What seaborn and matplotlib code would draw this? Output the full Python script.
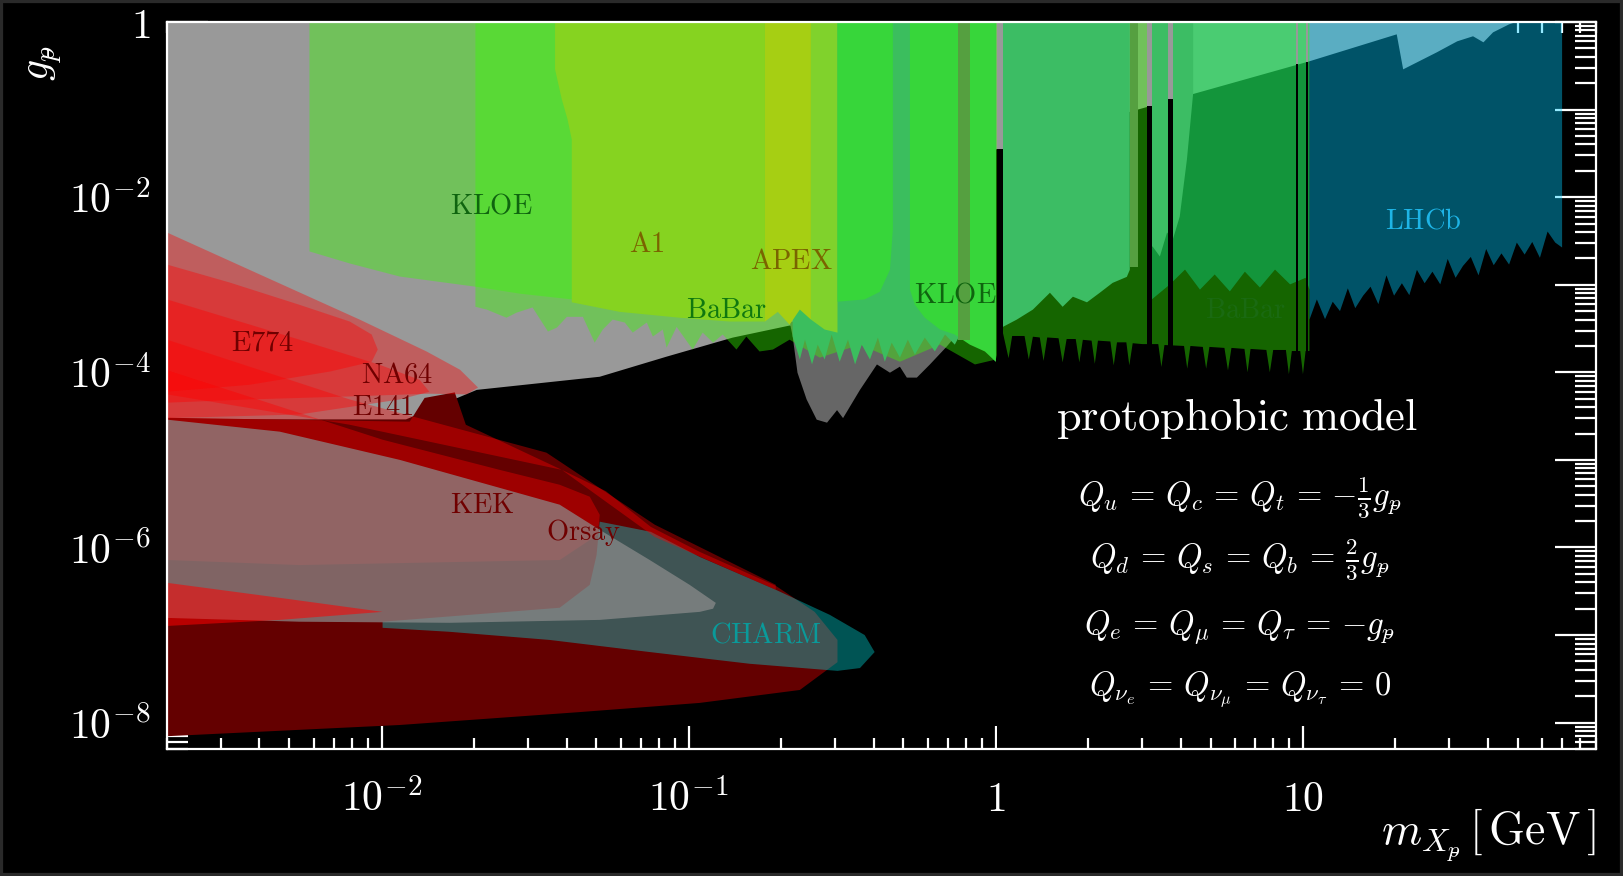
import numpy as np
import matplotlib
matplotlib.use("Agg")
import matplotlib.pyplot as plt
import seaborn as sns
from matplotlib.ticker import LogLocator, FuncFormatter, NullFormatter
from matplotlib.patches import Rectangle

sns.set_theme(style="dark")
plt.rcParams["mathtext.fontset"] = "cm"
plt.rcParams["font.family"] = ["DejaVu Serif", "DejaVu Sans"]

# ---- exclusion regions, (mass [GeV], coupling) ----
# light gray combined bound (lower edge, left -> right)
gray_m = [0.002, 0.012, 0.0204, 0.0513, 0.0847, 0.139, 0.213, 0.781, 1.0, 1.0, 2.90, 10.5,
          20.2, 21.2, 27.3, 31.8, 35.8, 38.7, 41.6, 46.9, 49.4]
gray_g = [2.9e-5, 2.9e-5, 6.3e-5, 8.9e-5, 1.51e-4, 2.49e-4, 3.42e-4, 2.56e-4, 2.36e-4, 0.0351, 0.100, 0.356,
          0.723, 0.288, 0.451, 0.602, 0.687, 0.586, 0.762, 0.94, 1.0]

# dark gray pocket
dip_m = [0.213, 0.781, 0.781, 0.746, 0.692, 0.610, 0.553, 0.513, 0.487, 0.452, 0.410, 0.361,
         0.318, 0.304, 0.282, 0.261, 0.242, 0.226, 0.218]
dip_g = [3.8e-4, 2.84e-4, 2.56e-4, 2.70e-4, 1.97e-4, 1.23e-4, 8.7e-5, 8.7e-5, 1.16e-4, 9.9e-5, 1.23e-4, 6.3e-5,
         3.0e-5, 3.7e-5, 2.66e-5, 2.88e-5, 4.9e-5, 9.9e-5, 2.56e-4]

kloe_m = [0.00582, 0.00582, 0.00787, 0.01146, 0.0202, 0.0282, 0.0416, 0.1086, 0.177]
kloe_g = [1.0, 2.40e-3, 1.75e-3, 1.24e-3, 9.5e-4, 7.9e-4, 6.8e-4, 5.9e-4, 5.2e-4]

babar_m = [0.0202, 0.0202, 0.0220, 0.0255, 0.0275, 0.0310, 0.0348, 0.0372, 0.0401, 0.0452, 0.0494, 0.0525,
           0.0565, 0.0619, 0.0657, 0.0730, 0.0764, 0.0823, 0.0847, 0.0913, 0.103, 0.111, 0.120, 0.129,
           0.143, 0.154, 0.170, 0.188, 0.213, 0.267, 0.361, 0.487, 0.658, 0.855, 1.0,
           1.054, 1.10, 1.13, 1.24, 1.28, 1.32, 1.39, 1.43, 1.47, 1.60, 1.65, 1.70, 1.82, 1.87, 1.92,
           2.05, 2.10, 2.15, 2.36, 2.42, 2.48, 2.66, 2.72, 2.79, 3.0, 3.38, 3.46, 3.54, 4.1, 4.2, 4.3,
           4.72, 4.84, 4.96, 5.55, 5.7, 5.85, 6.45, 6.6, 6.75, 7.6, 7.8, 8.0, 8.8, 9.0, 9.2, 9.8, 10.0,
           10.2, 10.5]
babar_g = [1.0, 5.6e-4, 5.2e-4, 4.2e-4, 4.8e-4, 5.5e-4, 2.92e-4, 3.24e-4, 4.3e-4, 4.3e-4, 2.18e-4, 3.08e-4,
           4.0e-4, 3.7e-4, 2.84e-4, 3.7e-4, 2.56e-4, 3.08e-4, 1.91e-4, 3.3e-4, 1.82e-4, 2.84e-4, 2.18e-4, 2.70e-4,
           1.82e-4, 2.56e-4, 1.73e-4, 1.82e-4, 2.36e-4, 1.47e-4, 2.07e-4, 1.32e-4, 2.07e-4, 1.23e-4, 1.40e-4,
           2.84e-4, 1.45e-4, 2.6e-4, 2.6e-4, 1.4e-4, 2.55e-4, 2.5e-4, 1.35e-4, 2.5e-4, 2.45e-4, 1.3e-4, 2.4e-4,
           2.4e-4, 1.3e-4, 2.35e-4, 2.3e-4, 1.25e-4, 2.3e-4, 2.25e-4, 1.2e-4, 2.2e-4, 2.2e-4, 1.2e-4, 2.15e-4,
           2.1e-4, 2.1e-4, 1.15e-4, 2.05e-4, 2.0e-4, 1.1e-4, 2.0e-4, 1.95e-4, 1.1e-4, 1.95e-4, 1.9e-4, 1.05e-4,
           1.9e-4, 1.85e-4, 1.0e-4, 1.85e-4, 1.8e-4, 1.0e-4, 1.8e-4, 1.8e-4, 9.5e-5, 1.75e-4, 1.75e-4, 9.5e-5,
           1.75e-4, 1.75e-4]

t1_m = [0.218, 0.218, 0.230, 0.239, 0.252, 0.263, 0.277, 0.292, 0.310, 0.330, 0.348, 0.366, 0.389, 0.413,
        0.435, 0.458, 0.487, 0.517, 0.545, 0.587, 0.633, 0.683, 0.735, 0.781, 0.855, 0.921, 1.0]
t1_g = [1.0, 2.56e-4, 1.40e-4, 2.36e-4, 1.23e-4, 2.07e-4, 1.40e-4, 2.70e-4, 1.32e-4, 2.36e-4, 1.23e-4,
        2.07e-4, 1.40e-4, 2.49e-4, 1.32e-4, 2.18e-4, 1.47e-4, 2.36e-4, 1.59e-4, 2.49e-4, 1.73e-4, 2.70e-4,
        2.07e-4, 3.08e-4, 2.07e-4, 1.82e-4, 1.32e-4]

a1_m = [0.0367, 0.0367, 0.0386, 0.0403, 0.0416, 0.0416, 0.0596, 0.0935, 0.136, 0.177]
a1_g = [1.0, 0.288, 0.131, 0.0773, 0.0456, 6.3e-4, 4.9e-4, 4.2e-4, 3.8e-4, 3.8e-4]

apex_m = [0.177, 0.177, 0.195, 0.213, 0.230, 0.250]
apex_g = [1.0, 3.8e-4, 4.9e-4, 3.5e-4, 5.2e-4, 4.0e-4]

na48_m = [0.250, 0.250, 0.277, 0.305]
na48_g = [1.0, 4.0e-4, 3.08e-4, 2.84e-4]

b1_m = [0.305, 0.305, 0.374, 0.419, 0.452, 0.462, 0.462]
b1_g = [1.0, 6.4e-4, 6.8e-4, 8.3e-4, 1.48e-3, 4.27e-3, 1.0]

kloe2_m = [0.525, 0.525, 0.545, 0.587, 0.658, 0.735, 0.823, 0.921, 1.0]
kloe2_g = [1.0, 8.8e-4, 5.9e-4, 4.2e-4, 3.08e-4, 2.70e-4, 2.07e-4, 1.73e-4, 1.32e-4]

stripe1_m = [0.752, 0.752, 0.823]
stripe1_g = [1.0, 2.36e-4, 2.36e-4]

k2_m = [1.054, 1.054, 1.170, 1.32, 1.50, 1.65, 1.782, 1.98, 2.18, 2.40, 2.67, 2.73]
k2_g = [1.0, 3.3e-4, 4.0e-4, 5.2e-4, 8.1e-4, 5.6e-4, 7.3e-4, 6.3e-4, 8.1e-4, 1.05e-3, 1.23e-3, 1.48e-3]

stripe2_m = [2.73, 2.73, 2.90]
stripe2_g = [1.0, 1.6e-3, 1.6e-3]

k3_m = [3.22, 3.22, 3.24, 3.42, 3.61, 3.77, 3.97, 4.19, 4.39]
k3_g = [1.0, 2.73e-3, 2.73e-3, 2.10e-3, 3.95e-3, 3.29e-3, 6.0e-3, 0.0270, 0.153]

hm_m = [3.22, 3.22, 3.69, 4.13, 4.62, 5.16, 5.78, 6.47, 7.24, 8.11, 9.08, 10.2, 10.5]
hm_g = [1.0, 6.8e-4, 1.01e-3, 1.49e-3, 8.8e-4, 1.31e-3, 8.4e-4, 1.41e-3, 9.3e-4, 1.49e-3, 1.01e-3, 1.20e-3, 8.8e-4]

lhcb_m = [10.5, 10.5, 11.1, 11.8, 12.5, 13.2, 14.0, 14.8, 15.7, 16.6, 17.6, 18.7, 19.8, 21.0, 22.2, 23.5,
          24.9, 26.4, 28.0, 29.6, 31.4, 33.2, 35.2, 37.3, 39.5, 41.8, 44.3, 46.9, 49.7, 52.7, 55.8, 59.1,
          62.6, 66.3, 69.8, 69.8]
lhcb_g = [1.0, 4.0e-4, 6.8e-4, 4.05e-4, 6.4e-4, 5.0e-4, 9.1e-4, 5.4e-4, 7.5e-4, 9.5e-4, 6.0e-4, 1.28e-3,
          7.5e-4, 1.04e-3, 7.6e-4, 1.48e-3, 1.04e-3, 1.41e-3, 1.01e-3, 1.97e-3, 1.2e-3, 1.64e-3, 2.08e-3,
          1.28e-3, 2.56e-3, 1.67e-3, 2.28e-3, 1.7e-3, 3.03e-3, 2.21e-3, 3.08e-3, 2.03e-3, 4.05e-3, 3.03e-3,
          2.66e-3, 1.0]

# resonance vetoes (phi, J/psi, psi(2S), Upsilons)
veto_lo = [1.007, 3.10, 3.63, 9.50, 10.25]
veto_hi = [1.054, 3.22, 3.77, 9.62, 10.40]
veto_top = [0.0351, 0.109, 0.131, 0.33, 0.35]

# beam dump lobes (closed outlines)
darkred_m = [0.002, 0.01234, 0.0138, 0.0173, 0.0188, 0.0386, 0.0537, 0.0752, 0.1086, 0.192, 0.257, 0.305,
             0.305, 0.230, 0.1086, 0.0442, 0.01146, 0.002]
darkred_g = [3.03e-5, 2.73e-5, 5.1e-5, 5.9e-5, 2.52e-5, 7.7e-6, 4.4e-6, 1.72e-6, 8.9e-7, 3.65e-7, 1.84e-7,
             8.8e-8, 4.9e-8, 2.36e-8, 1.68e-8, 1.32e-8, 9.4e-9, 7.0e-9]

charm_m = [0.0513, 0.0752, 0.1086, 0.192, 0.288, 0.374, 0.403, 0.361, 0.305, 0.158, 0.0746, 0.0352,
           0.0166, 0.01007, 0.01007, 0.0380, 0.0476, 0.0501]
charm_g = [1.97e-6, 1.51e-6, 7.8e-7, 3.29e-7, 1.70e-7, 1.0e-7, 6.4e-8, 4.2e-8, 3.9e-8, 4.7e-8, 6.4e-8,
           8.8e-8, 1.09e-7, 1.21e-7, 1.42e-7, 2.05e-7, 3.74e-7, 8.2e-7]

kek_m = [0.002, 0.01007, 0.0242, 0.0380, 0.0476, 0.0513, 0.0506, 0.0380, 0.0054, 0.002]
kek_g = [1.06e-4, 1.70e-5, 7.7e-6, 5.2e-6, 3.8e-6, 2.36e-6, 1.40e-6, 7.2e-7, 6.3e-7, 7.2e-7]

e137_m = [0.002, 0.00466, 0.01146, 0.0242, 0.0380, 0.0513, 0.0746, 0.1007, 0.1225, 0.120, 0.1086, 0.0513,
          0.01665, 0.0054, 0.002]
e137_g = [2.88e-5, 2.10e-5, 1.0e-5, 4.8e-6, 3.08e-6, 1.59e-6, 7.2e-7, 3.74e-7, 2.33e-7, 2.0e-7, 1.84e-7,
          1.49e-7, 1.38e-7, 1.42e-7, 1.57e-7]

na64_m = [0.002, 0.00401, 0.00848, 0.0140, 0.0180, 0.0206, 0.0189, 0.0143, 0.00787, 0.00372, 0.002]
na64_g = [3.95e-3, 1.31e-3, 4.0e-4, 1.73e-4, 1.07e-4, 6.7e-5, 5.6e-5, 5.7e-5, 5.3e-5, 4.9e-5, 4.5e-5]

e774_m = [0.002, 0.00320, 0.0054, 0.00787, 0.00928, 0.00971, 0.00928, 0.00678, 0.00372, 0.002]
e774_g = [1.70e-3, 1.06e-3, 5.9e-4, 3.8e-4, 2.70e-4, 1.82e-4, 1.32e-4, 1.02e-4, 7.2e-5, 6.0e-5]

e141_m = [0.002, 0.0054, 0.00985, 0.0133, 0.0143, 0.01146, 0.0054, 0.002]
e141_g = [6.8e-4, 2.36e-4, 1.22e-4, 8.2e-5, 6.0e-5, 4.9e-5, 3.3e-5, 3.0e-5]

orsay_m = [0.002, 0.00787, 0.0344, 0.0775, 0.192, 0.192, 0.0775, 0.0386, 0.00787, 0.002]
orsay_g = [2.36e-4, 4.9e-5, 1.21e-5, 1.82e-6, 3.75e-7, 3.29e-7, 1.32e-6, 7.7e-6, 2.52e-5, 5.6e-5]

wedge_m = [0.002, 0.00466, 0.01007, 0.00466, 0.002]
wedge_g = [3.95e-7, 2.66e-7, 1.84e-7, 1.49e-7, 1.27e-7]

# ---- figure ----
fig = plt.figure(figsize=(16.23, 8.76), dpi=100, facecolor="black")
ax = fig.add_axes([167 / 1623, 1 - 749 / 876, 1429 / 1623, 727 / 876])
ax.set_facecolor("black")
ax.set_xscale("log")
ax.set_yscale("log")
ax.set_xlim(0.002, 90)
ax.set_ylim(5e-9, 1)
ytop = ax.get_ylim()[1]
ybot = ax.get_ylim()[0]


def top_region(m, g, color, alpha=1.0, z=1):
    xs = list(m) + [m[-1], m[0]]
    ys = list(g) + [ytop, ytop]
    ax.fill(xs, ys, color=color, alpha=alpha, lw=0, zorder=z)


def lobe(m, g, color, alpha=1.0, z=2):
    ax.fill(m, g, color=color, alpha=alpha, lw=0, zorder=z)


top_region(gray_m, gray_g, "#999999", z=1)
lobe(dip_m, dip_g, "#666666", z=1.5)

# beam dumps
lobe(darkred_m, darkred_g, "#640000", z=2)
lobe(charm_m, charm_g, "#00e6e6", alpha=0.37, z=2.1)
lobe(kek_m, kek_g, "#ff0000", alpha=0.38, z=2.2)
lobe(e137_m, e137_g, "#8c8c8c", alpha=0.72, z=2.3)
lobe(na64_m, na64_g, "#ff0000", alpha=0.38, z=2.4)
lobe(e774_m, e774_g, "#ff0000", alpha=0.38, z=2.5)
lobe(e141_m, e141_g, "#ff0000", alpha=0.38, z=2.6)
lobe(orsay_m, orsay_g, "#ff0000", alpha=0.38, z=2.7)
lobe(wedge_m, wedge_g, "#ff0000", alpha=0.55, z=2.8)

# colliders / fixed target
top_region(kloe_m, kloe_g, "#37ff00", alpha=0.4, z=3)
top_region(babar_m, babar_g, "#37ff00", alpha=0.4, z=3.1)
top_region(t1_m, t1_g, "#3bbe5e", z=4)
top_region(a1_m, a1_g, "#86d320", z=4.1)
top_region(apex_m, apex_g, "#a6cf13", z=4.2)
top_region(na48_m, na48_g, "#80d22c", z=4.2)
top_region(b1_m, b1_g, "#37d63a", z=4.3)
top_region(kloe2_m, kloe2_g, "#37d63a", z=4.3)
top_region(stripe1_m, stripe1_g, "#55a040", z=4.4)
top_region(k2_m, k2_g, "#3cbd64", z=4.3)
top_region(stripe2_m, stripe2_g, "#55a040", z=4.3)
top_region(hm_m, hm_g, "#11de96", alpha=0.4, z=4.5)
top_region(k3_m, k3_g, "#3cbd64", z=4.6)
top_region(lhcb_m, lhcb_g, "#00ccff", alpha=0.41, z=4.7)

for lo, hi, tp in zip(veto_lo, veto_hi, veto_top):
    ax.fill_between([lo, hi], tp, ytop, color="#999999", lw=0, zorder=5)
    ax.fill_between([lo, hi], ybot, tp, color="black", lw=0, zorder=5)

# labels
lab = dict(fontsize=20.5, ha="center", va="center", zorder=10)
ax.text(0.0228, 8.0e-3, r"$\mathrm{KLOE}$", color="#0f640f", **lab)
ax.text(0.0730, 2.88e-3, r"$\mathrm{A1}$", color="#7a6400", **lab)
ax.text(0.216, 1.84e-3, r"$\mathrm{APEX}$", color="#7a6400", **lab)
ax.text(0.133, 5.1e-4, r"$\mathrm{BaBar}$", color="#0f780f", **lab)
ax.text(0.735, 7.7e-4, r"$\mathrm{KLOE}$", color="#0f640f", **lab)
ax.text(6.52, 5.1e-4, r"$\mathrm{BaBar}$", color="#1a6a12", **lab)
ax.text(24.6, 5.3e-3, r"$\mathrm{LHCb}$", color="#1eb4e6", **lab)
ax.text(0.00409, 2.18e-4, r"$\mathrm{E774}$", color="#700000", **lab)
ax.text(0.0112, 9.4e-5, r"$\mathrm{NA64}$", color="#700000", **lab)
ax.text(0.01007, 3.95e-5, r"$\mathrm{E141}$", color="#700000", **lab)
ax.text(0.0212, 3.0e-6, r"$\mathrm{KEK}$", color="#700000", **lab)
ax.text(0.0455, 1.47e-6, r"$\mathrm{Orsay}$", color="#700000", **lab)
ax.text(0.178, 1.0e-7, r"$\mathrm{CHARM}$", color="#0a9a9a", **lab)

# protophobic p (p with a bar)
SLP = r"p\hspace{-0.45}\text{-}"
GP = r"g_{" + SLP + r"}"

ax.text(6.1, 3.0e-5, r"$\mathrm{protophobic\ model}$", fontsize=32, color="white",
        ha="center", va="center", zorder=10)
eqs = [r"$Q_u \,=\, Q_c \,=\, Q_t \,=\, {-\frac{1}{3}" + GP + r"}$",
       r"$Q_d \,=\, Q_s \,=\, Q_b \,=\, \frac{2}{3}" + GP + r"$",
       r"$Q_e \,=\, Q_\mu \,=\, Q_\tau \,=\, {-" + GP + r"}$",
       r"$Q_{\nu_e} \,=\, Q_{\nu_\mu} \,=\, Q_{\nu_\tau} \,=\, 0$"]
for eq, yy in zip(eqs, [3.8e-6, 7.2e-7, 1.21e-7, 2.36e-8]):
    ax.text(6.23, yy, eq, fontsize=23.5, color="white", ha="center", va="center", zorder=10)

# axes styling
ax.xaxis.set_major_locator(LogLocator(base=10, numticks=30))
ax.xaxis.set_minor_locator(LogLocator(base=10, subs=np.arange(2, 10), numticks=30))
ax.yaxis.set_major_locator(LogLocator(base=10, numticks=30))
ax.yaxis.set_minor_locator(LogLocator(base=10, subs=np.arange(2, 10), numticks=30))


def xfmt(v, pos):
    if v < 0.0019 or v > 91:
        return ""
    e = int(round(np.log10(v)))
    if e == 0:
        return "$1$"
    if e == 1:
        return "$10$"
    return "$10^{%d}$" % e


def yfmt(v, pos):
    if v < 0.99e-8 or v > 1.01:
        return ""
    e = int(round(np.log10(v)))
    if e % 2:
        return ""
    return "$1$" if e == 0 else "$10^{%d}$" % e


ax.xaxis.set_major_formatter(FuncFormatter(xfmt))
ax.yaxis.set_major_formatter(FuncFormatter(yfmt))
ax.xaxis.set_minor_formatter(NullFormatter())
ax.yaxis.set_minor_formatter(NullFormatter())

ax.tick_params(axis="both", which="both", direction="in", colors="white", top=True, right=True,
               bottom=True, left=True, labelsize=30)
ax.tick_params(axis="x", which="major", length=16.5, width=1.6, pad=21)
ax.tick_params(axis="x", which="minor", length=8, width=1.6)
ax.tick_params(axis="y", which="major", length=29.5, width=1.6, pad=12)
ax.tick_params(axis="y", which="minor", length=15, width=1.6)
for s in ax.spines.values():
    s.set_visible(True)
    s.set_color("white")
    s.set_linewidth(1.6)
    s.set_zorder(12)
ax.grid(False)

fig.text(43 / 1623, 1 - 63 / 876, r"$" + GP + r"$", rotation=90, color="white", fontsize=30,
         ha="center", va="center")
fig.text(1596 / 1623, 1 - 835 / 876, r"$m_{X_{" + SLP + r"}}\,[\,\mathrm{GeV}\,]$", color="white",
         fontsize=33, ha="right", va="center")

fig.add_artist(Rectangle((0, 0), 1, 1, transform=fig.transFigure, fill=False,
                         edgecolor="#2a2a2a", lw=4.5))

fig.savefig("out.png", dpi=100, facecolor="black")
